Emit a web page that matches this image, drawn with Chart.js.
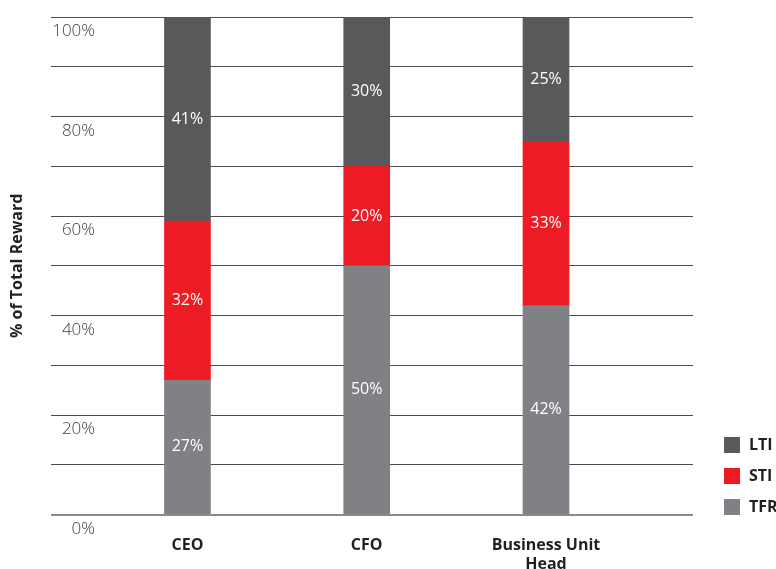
<!DOCTYPE html>
<html>
<head>
<meta charset="utf-8">
<script src="https://cdn.jsdelivr.net/npm/chart.js@4.4.1/dist/chart.umd.min.js"></script>
<style>
  html, body { margin: 0; padding: 0; background: #ffffff; }
  #wrap { width: 776px; height: 569px; position: relative; }
</style>
</head>
<body>
<div id="wrap"><canvas id="c"></canvas></div>
<script>
const categories = [["CEO"], ["CFO"], ["Business Unit", "Head"]];
const seriesNames = ["TFR", "STI", "LTI"];
const tfrValues = [27, 50, 42];
const stiValues = [32, 20, 33];
const ltiValues = [41, 30, 25];
const seriesColors = ["#808184", "#ed1c24", "#58595b"];
const yTickLabels = ["0%", "20%", "40%", "60%", "80%", "100%"];

const FONT = "'Open Sans', 'Liberation Sans', sans-serif";

function toPoints(vals) { return vals.map((v, i) => ({ x: i, y: v })); }

const barLabels = {
  id: 'barLabels',
  afterDatasetsDraw(chart) {
    const ctx = chart.ctx;
    ctx.save();
    ctx.fillStyle = '#ffffff';
    ctx.font = "400 16px " + FONT;
    ctx.textAlign = 'center';
    ctx.textBaseline = 'middle';
    chart.data.datasets.forEach((ds, di) => {
      const meta = chart.getDatasetMeta(di);
      meta.data.forEach((el, i) => {
        const p = el.getProps(['x', 'y', 'base'], true);
        const cy = (p.y + p.base) / 2;
        ctx.fillText(ds.data[i].y + '%', p.x, cy);
      });
    });
    ctx.restore();
  }
};

const sideLegend = {
  id: 'sideLegend',
  afterDraw(chart) {
    const ctx = chart.ctx;
    ctx.save();
    ctx.font = "700 16px " + FONT;
    ctx.textBaseline = 'middle';
    ctx.textAlign = 'left';
    const ds = chart.data.datasets.slice().reverse();
    const x0 = 724, y0 = 445, step = 31, box = 16;
    ds.forEach((d, k) => {
      const cy = y0 + k * step;
      ctx.fillStyle = d.backgroundColor;
      ctx.fillRect(x0, cy - box / 2, box, box);
      ctx.fillStyle = '#231f20';
      ctx.fillText(d.label, x0 + 25, cy);
    });
    ctx.restore();
  }
};

new Chart(document.getElementById('c'), {
  type: 'bar',
  data: {
    datasets: [
      { label: seriesNames[0], data: toPoints(tfrValues), backgroundColor: seriesColors[0] },
      { label: seriesNames[1], data: toPoints(stiValues), backgroundColor: seriesColors[1] },
      { label: seriesNames[2], data: toPoints(ltiValues), backgroundColor: seriesColors[2] }
    ]
  },
  options: {
    responsive: true,
    maintainAspectRatio: false,
    animation: false,
    barThickness: 46,
    layout: { padding: { top: 17, right: 83, bottom: -26, left: 0 } },
    plugins: {
      legend: { display: false },
      tooltip: { enabled: false }
    },
    scales: {
      x: {
        type: 'linear',
        stacked: true,
        offset: false,
        min: -0.76,
        max: 2.82,
        grid: { display: false, drawTicks: false, offset: false },
        border: { display: false },
        afterBuildTicks: axis => { axis.ticks = categories.map((c, i) => ({ value: i })); },
        ticks: {
          autoSkip: false,
          maxRotation: 0,
          padding: 21,
          color: '#231f20',
          font: { family: FONT, size: 16, weight: '700', lineHeight: 1.2 },
          callback: v => categories[v]
        }
      },
      y: {
        stacked: true,
        min: 0,
        max: 100,
        grid: {
          drawTicks: false,
          color: c => c.tick && c.tick.value === 0 ? '#8a8a8c' : '#4d4d4f',
          lineWidth: c => c.tick && c.tick.value === 0 ? 2 : 1
        },
        border: { display: false },
        title: {
          display: true,
          text: '% of Total Reward',
          color: '#231f20',
          font: { family: FONT, size: 16, weight: '700', lineHeight: 1.2 },
          padding: { top: 8, bottom: 22 }
        },
        ticks: {
          stepSize: 10,
          mirror: true,
          crossAlign: 'far',
          padding: 1,
          labelOffset: 14.5,
          color: '#414042',
          font: { family: FONT, size: 17, weight: '300' },
          callback: v => (v % 20 === 0 ? yTickLabels[v / 20] : '')
        }
      }
    }
  },
  plugins: [barLabels, sideLegend]
});
</script>
</body>
</html>
